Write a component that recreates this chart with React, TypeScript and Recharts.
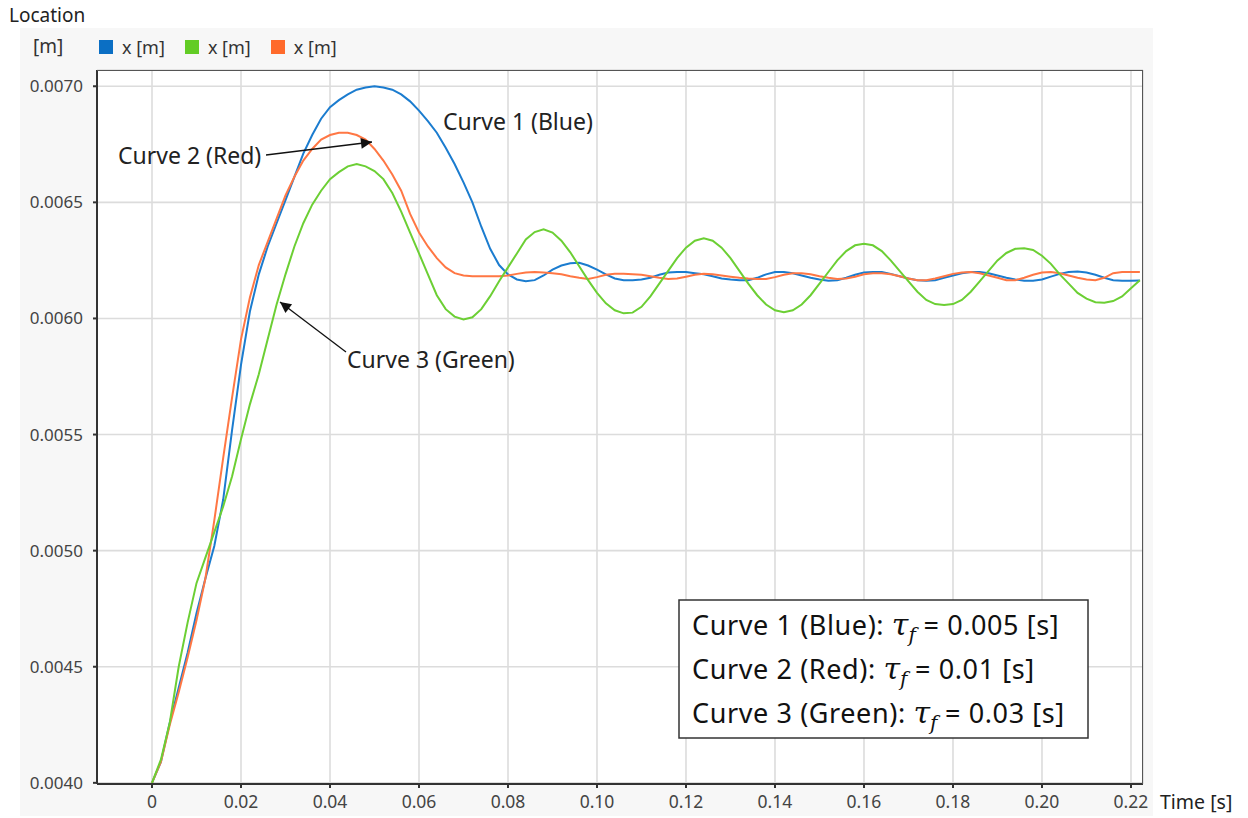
import React from "react";
import { LineChart, Line, XAxis, YAxis, CartesianGrid } from "recharts";

const times = [
  0, 0.002, 0.004, 0.006, 0.008, 0.01, 0.012, 0.014, 0.016, 0.018,
  0.02, 0.022, 0.024, 0.026, 0.028, 0.03, 0.032, 0.034, 0.036, 0.038,
  0.04, 0.042, 0.044, 0.046, 0.048, 0.05, 0.052, 0.054, 0.056, 0.058,
  0.06, 0.062, 0.064, 0.066, 0.068, 0.07, 0.072, 0.074, 0.076, 0.078,
  0.08, 0.082, 0.084, 0.086, 0.088, 0.09, 0.092, 0.094, 0.096, 0.098,
  0.1, 0.102, 0.104, 0.106, 0.108, 0.11, 0.112, 0.114, 0.116, 0.118,
  0.12, 0.122, 0.124, 0.126, 0.128, 0.13, 0.132, 0.134, 0.136, 0.138,
  0.14, 0.142, 0.144, 0.146, 0.148, 0.15, 0.152, 0.154, 0.156, 0.158,
  0.16, 0.162, 0.164, 0.166, 0.168, 0.17, 0.172, 0.174, 0.176, 0.178,
  0.18, 0.182, 0.184, 0.186, 0.188, 0.19, 0.192, 0.194, 0.196, 0.198,
  0.2, 0.202, 0.204, 0.206, 0.208, 0.21, 0.212, 0.214, 0.216, 0.218,
  0.22, 0.222,
];

const blueX = [
  0.004, 0.00409, 0.00426, 0.00441, 0.00456, 0.00473, 0.00488, 0.00502, 0.00522, 0.00552,
  0.0058, 0.00603, 0.00619, 0.00631, 0.00641, 0.00651, 0.00661, 0.00671, 0.00679, 0.00686,
  0.00691, 0.00694, 0.006965, 0.006985, 0.006995, 0.007, 0.006995, 0.006985, 0.006965, 0.006935,
  0.006895, 0.00685, 0.0068, 0.006735, 0.006665, 0.006586, 0.0065, 0.006395, 0.0063, 0.00623,
  0.00619, 0.006168, 0.00616, 0.006165, 0.006185, 0.00621, 0.006228, 0.006238, 0.00624, 0.006228,
  0.00621, 0.00619, 0.006172, 0.006165, 0.006165, 0.006168, 0.006175, 0.006188, 0.006198, 0.0062,
  0.0062, 0.006195, 0.00619, 0.006182, 0.006172, 0.006168, 0.006165, 0.006165, 0.006175, 0.00619,
  0.0062, 0.0062, 0.006195, 0.006185, 0.006175, 0.006168, 0.006162, 0.006165, 0.006175, 0.006188,
  0.006198, 0.0062, 0.0062, 0.006192, 0.006182, 0.006172, 0.006165, 0.006162, 0.006165, 0.006175,
  0.006185, 0.006195, 0.0062, 0.0062, 0.006195, 0.006185, 0.006175, 0.006168, 0.006162, 0.006162,
  0.006168, 0.00618, 0.006192, 0.0062, 0.006202, 0.006198, 0.006188, 0.006175, 0.006165, 0.006162,
  0.006162, 0.006163,
];

const redX = [
  0.004, 0.00409, 0.00425, 0.00439, 0.00454, 0.0047, 0.00488, 0.00513, 0.0054, 0.00566,
  0.00591, 0.00609, 0.00623, 0.00633, 0.00643, 0.00653, 0.00661, 0.00668, 0.00673, 0.00677,
  0.00679, 0.0068, 0.0068, 0.00679, 0.00677, 0.00673, 0.00668, 0.00662, 0.00655, 0.00645,
  0.00637, 0.00631, 0.00626, 0.00622, 0.006195, 0.006185, 0.006182, 0.006182, 0.006182, 0.006182,
  0.006185, 0.006192, 0.006198, 0.0062, 0.006198, 0.006195, 0.00619, 0.006182, 0.006175, 0.00617,
  0.006178, 0.006188, 0.006192, 0.006192, 0.00619, 0.006188, 0.006182, 0.006175, 0.00617, 0.006172,
  0.00618, 0.006188, 0.006192, 0.00619, 0.006185, 0.00618, 0.006175, 0.006172, 0.00617, 0.00617,
  0.006178, 0.006188, 0.006195, 0.006195, 0.00619, 0.006182, 0.006175, 0.00617, 0.006172, 0.00618,
  0.00619, 0.006195, 0.006195, 0.00619, 0.006182, 0.006172, 0.006165, 0.006165, 0.006172, 0.006182,
  0.006192, 0.006198, 0.0062, 0.006195, 0.006185, 0.006175, 0.006165, 0.006165, 0.006175, 0.006188,
  0.006198, 0.0062, 0.006195, 0.006185, 0.006175, 0.006168, 0.006165, 0.006175, 0.006195, 0.0062,
  0.0062, 0.0062,
];

const greenX = [
  0.004, 0.0041, 0.00426, 0.0045, 0.00469, 0.00486, 0.00497, 0.00508, 0.00519, 0.00532,
  0.00548, 0.00563, 0.00576, 0.00591, 0.00606, 0.00619, 0.00631, 0.00641, 0.00649, 0.00655,
  0.0066, 0.00663, 0.006655, 0.006665, 0.006655, 0.006635, 0.0066, 0.00654, 0.00646, 0.00637,
  0.00628, 0.00619, 0.0061, 0.00604, 0.006008, 0.005996, 0.006005, 0.00604, 0.006096, 0.00616,
  0.00622, 0.00628, 0.00634, 0.006372, 0.006384, 0.00637, 0.006335, 0.006285, 0.006225, 0.006165,
  0.00611, 0.006065, 0.006035, 0.006022, 0.006025, 0.00605, 0.006095, 0.00615, 0.006205, 0.00626,
  0.006305, 0.006335, 0.006345, 0.006335, 0.006305, 0.00626, 0.006205, 0.00615, 0.0061, 0.00606,
  0.006035, 0.006027, 0.006035, 0.00606, 0.0061, 0.00615, 0.0062, 0.00625, 0.00629, 0.006315,
  0.006322, 0.006315, 0.00629, 0.00625, 0.006205, 0.00616, 0.006115, 0.00608, 0.006062, 0.006058,
  0.006062, 0.00608, 0.006115, 0.00616, 0.006205, 0.00625, 0.006282, 0.0063, 0.006302, 0.006295,
  0.00627, 0.006235, 0.00619, 0.00615, 0.00611, 0.006085, 0.00607, 0.006068, 0.006075, 0.006095,
  0.00613, 0.006165,
];

const xTicks = [0, 0.02, 0.04, 0.06, 0.08, 0.1, 0.12, 0.14, 0.16, 0.18, 0.2, 0.22];
const yTicks = [0.004, 0.0045, 0.005, 0.0055, 0.006, 0.0065, 0.007];

const BLUE = "#1b7ccf";
const GREEN = "#6ccf34";
const ORANGE = "#ff7744";

const legendItems = [
  { name: "x [m]", color: "#0b6fc4" },
  { name: "x [m]", color: "#62cc25" },
  { name: "x [m]", color: "#ff6a2b" },
];

const curveNotes = [
  { label: "Curve 1 (Blue):\u00a0", value: "\u00a0= 0.005 [s]" },
  { label: "Curve 2 (Red):\u00a0", value: "\u00a0= 0.01 [s]" },
  { label: "Curve 3 (Green):\u00a0", value: "\u00a0= 0.03 [s]" },
];

const data = times.map((t, i) => ({ t, blue: blueX[i], red: redX[i], green: greenX[i] }));

const FONT = "'Noto Sans', 'DejaVu Sans', sans-serif";

export default function App() {
  return (
    <div style={{ position: "absolute", left: 0, top: 0, width: 1248, height: 818, background: "#fff", fontFamily: FONT, overflow: "hidden" }}>
      <div style={{ position: "absolute", left: 20, top: 28, width: 1133, height: 788, background: "#f7f7f7" }} />
      <div style={{ position: "absolute", left: 9, top: 2, fontSize: 19, color: "#222", lineHeight: "26px" }}>Location</div>
      <div style={{ position: "absolute", left: 33, top: 33, fontSize: 19, color: "#333", lineHeight: "26px" }}>[m]</div>
      <div style={{ position: "absolute", left: 1160, top: 789, fontSize: 19.5, color: "#222", lineHeight: "26px" }}>Time [s]</div>
      <div style={{ position: "absolute", left: 99, top: 34, display: "flex", alignItems: "center", fontSize: 18, color: "#333", lineHeight: "26px" }}>
        {legendItems.map((it, i) => (
          <div key={i} style={{ display: "flex", alignItems: "center", marginRight: 20 }}>
            <span style={{ display: "inline-block", width: 14, height: 14, background: it.color, marginRight: 9 }} />
            <span>{it.name}</span>
          </div>
        ))}
      </div>
      <div style={{ position: "absolute", left: 0, top: 0 }}>
        <LineChart width={1248} height={818} data={data} margin={{ top: 70, right: 105, bottom: 4, left: 0 }}>
          <CartesianGrid stroke="#dcdcdc" strokeWidth={1.6} fill="#ffffff" />
          <XAxis
            dataKey="t"
            type="number"
            domain={[-0.01236, 0.2227]}
            allowDataOverflow
            ticks={xTicks}
            tickFormatter={(v: number) => (v === 0 ? "0" : v.toFixed(2))}
            height={30}
            tickSize={4}
            tickMargin={8}
            axisLine={{ stroke: "#333", strokeWidth: 2 }}
            tickLine={{ stroke: "#333", strokeWidth: 2 }}
            tick={{ fontSize: 17.5, fill: "#444", fontFamily: FONT }}
          />
          <YAxis
            type="number"
            domain={[0.003995, 0.00707]}
            allowDataOverflow
            ticks={yTicks}
            tickFormatter={(v: number) => v.toFixed(4)}
            width={97}
            tickSize={4}
            tickMargin={10}
            axisLine={{ stroke: "#333", strokeWidth: 2 }}
            tickLine={{ stroke: "#333", strokeWidth: 2 }}
            tick={{ fontSize: 17, fill: "#444", fontFamily: FONT }}
          />
          <Line type="linear" dataKey="blue" stroke={BLUE} strokeWidth={2} dot={false} isAnimationActive={false} />
          <Line type="linear" dataKey="red" stroke={ORANGE} strokeWidth={2} dot={false} isAnimationActive={false} />
          <Line type="linear" dataKey="green" stroke={GREEN} strokeWidth={2} dot={false} isAnimationActive={false} />
        </LineChart>
      </div>
      <div style={{ position: "absolute", left: 97, top: 70, width: 1046, height: 714, border: "1.5px solid #555", borderLeft: "none", borderBottom: "none", boxSizing: "border-box", pointerEvents: "none" }} />
      <svg width={1248} height={818} style={{ position: "absolute", left: 0, top: 0, pointerEvents: "none" }}>
        <defs>
          <marker id="arr" viewBox="0 0 10 10" refX="10" refY="5" markerWidth="16" markerHeight="11" markerUnits="userSpaceOnUse" orient="auto">
            <path d="M0,0 L10,5 L0,10 z" fill="#111" />
          </marker>
        </defs>
        <g fontFamily={FONT} fontSize={23} fill="#222">
          <text x={443} y={130}>Curve 1 (Blue)</text>
          <text x={118} y={164}>Curve 2 (Red)</text>
          <text x={347} y={368}>Curve 3 (Green)</text>
        </g>
        <line x1={266} y1={155} x2={372} y2={142} stroke="#111" strokeWidth={1.3} markerEnd="url(#arr)" />
        <line x1={346} y1={352} x2={280} y2={302} stroke="#111" strokeWidth={1.3} markerEnd="url(#arr)" />
        <rect x={679} y={600} width={409} height={138} fill="#fff" stroke="#333" strokeWidth={1.5} />
        <g fontFamily={FONT} fontSize={27} fill="#111">
          {curveNotes.map((n, i) => (
            <text key={i} x={692} y={635 + i * 44}>
              <tspan letterSpacing={0.6}>{n.label}</tspan>
              <tspan fontFamily="'DejaVu Serif', serif" fontStyle="italic" fontSize={30}>τ</tspan>
              <tspan fontFamily="'DejaVu Serif', serif" fontStyle="italic" fontSize={20} dy={7}>f</tspan>
              <tspan dy={-7} letterSpacing={0.6}>{n.value}</tspan>
            </text>
          ))}
        </g>
      </svg>
    </div>
  );
}
